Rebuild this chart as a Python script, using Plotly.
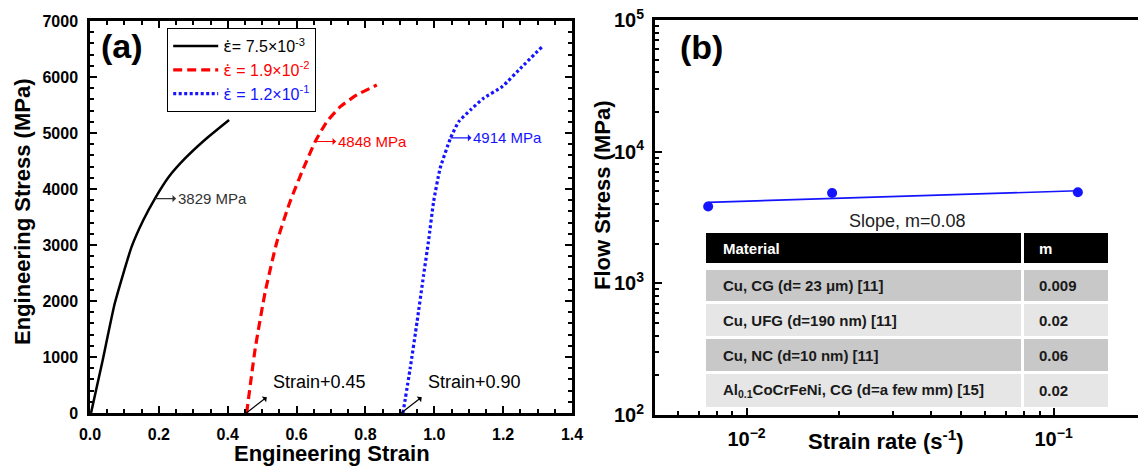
import plotly.graph_objects as go

W, H = 1138, 466
FONT = "Liberation Sans, Arial, sans-serif"

# ---------------- data: panel (a) engineering stress-strain ----------------
black_strain = [0.003, 0.037, 0.072, 0.121, 0.155, 0.189, 0.228, 0.276, 0.334, 0.404]
black_stress = [0, 946, 1959, 2970, 3446, 3834, 4210, 4545, 4880, 5232]
red_strain = [0.455, 0.480, 0.509, 0.543, 0.581, 0.620, 0.654, 0.688, 0.727, 0.775, 0.833]
red_stress = [0, 1155, 2166, 3059, 3773, 4370, 4845, 5202, 5470, 5679, 5857]
blue_strain = [0.909, 0.930, 0.950, 0.969, 0.983, 0.998, 1.017, 1.047, 1.071, 1.105,
               1.143, 1.197, 1.255, 1.313]
blue_stress = [0, 798, 1630, 2464, 3059, 3773, 4370, 4905, 5202, 5411, 5620, 5827, 6184, 6541]
EPS = "<span style=\"font-family:'DejaVu Sans'\">ε̇</span>"
series_names = [EPS + "= 7.5×10<sup>-3</sup>", EPS + " = 1.9×10<sup>-2</sup>",
                EPS + " = 1.2×10<sup>-1</sup>"]
series_colors = ["#000000", "#ff0000", "#1414ff"]

# yield/flow stress labels on each curve
flow_strain = [0.189, 0.654, 1.047]
flow_labels = ["3829 MPa", "4848 MPa", "4914 MPa"]
label_colors = ["#333333", "#ff0000", "#1414ff"]
shift_values = [0.45, 0.90]
shift_labels = ["Strain+0.45", "Strain+0.90"]

# ---------------- data: panel (b) flow stress vs strain rate ----------------
strain_rates = [7.5e-3, 1.9e-2, 1.2e-1]
flow_stress = [3829, 4848, 4914]
fit_rates = [7.5e-3, 1.2e-1]
fit_stress = [4120, 5050]
slope_label = "Slope, m=0.08"

table_header = ["Material", "m"]
table_material = ["Cu, CG (d= 23 μm) [11]", "Cu, UFG (d=190 nm) [11]",
                  "Cu, NC (d=10 nm) [11]", "Al<sub>0.1</sub>CoCrFeNi, CG (d=a few mm) [15]"]
table_m = ["0.009", "0.02", "0.06", "0.02"]


def px(x):
    return x / W


def py(y):
    return 1 - y / H


fig = go.Figure()

dashes = ["solid", "9px,5px", "3px,2.5px"]
widths = [2.5, 3.2, 3.2]
curves = [(black_strain, black_stress), (red_strain, red_stress), (blue_strain, blue_stress)]
for (xs, ys), name, col, dash, w in zip(curves, series_names, series_colors, dashes, widths):
    fig.add_trace(go.Scatter(
        x=xs, y=ys, mode="lines", xaxis="x", yaxis="y",
        name=f"<span style='color:{col}'>{name}</span>",
        line=dict(color=col, width=w, dash=dash, shape="spline", smoothing=0.5),
    ))

fig.add_trace(go.Scatter(
    x=fit_rates, y=fit_stress, mode="lines", xaxis="x2", yaxis="y2",
    line=dict(color="#1414ff", width=1.6), showlegend=False))
fig.add_trace(go.Scatter(
    x=strain_rates, y=flow_stress, mode="markers", xaxis="x2", yaxis="y2",
    marker=dict(color="#1414ff", size=10), showlegend=False))

axis_common = dict(
    showline=True, linewidth=2.5, linecolor="black", showgrid=False, zeroline=False,
    ticks="inside", ticklen=7, tickwidth=2, tickcolor="black", automargin=False,
    tickfont=dict(family=FONT, size=16, color="black", weight="bold"),
)

fig.update_layout(
    width=W, height=H,
    margin=dict(l=0, r=0, t=0, b=0, autoexpand=False),
    paper_bgcolor="white", plot_bgcolor="white",
    font=dict(family=FONT, color="black"),
    xaxis=dict(**axis_common, domain=[px(90), px(572)], range=[0, 1.4], anchor="y",
               tick0=0, dtick=0.2, tickformat=".1f", mirror="allticks", ticklabelstandoff=5,
               minor=dict(dtick=0.05, ticks="inside", ticklen=4, tickwidth=1.5, tickcolor="black")),
    yaxis=dict(**axis_common, domain=[py(413), py(21)], range=[0, 7000], anchor="x",
               tick0=0, dtick=1000, mirror="allticks", ticklabelstandoff=6,
               minor=dict(dtick=200, ticks="inside", ticklen=4, tickwidth=1.5, tickcolor="black")),
    xaxis2=dict(**axis_common, domain=[px(655), 1.0], type="log", range=[-2.298, -0.725],
                anchor="y2", dtick=1, exponentformat="power", mirror=True, ticklabelstandoff=5,
                minor=dict(ticks="inside", ticklen=4, tickwidth=1.5, tickcolor="black")),
    yaxis2=dict(**axis_common, domain=[py(415), py(20)], type="log", range=[2, 5],
                anchor="x2", dtick=1, exponentformat="power", ticklabelstandoff=5,
                minor=dict(ticks="inside", ticklen=4, tickwidth=1.5, tickcolor="black")),
    yaxis3=dict(type="log", range=[2, 5], dtick=1, overlaying="y2", side="right",
                anchor="free", position=1.0, showline=False, showgrid=False, zeroline=False,
                showticklabels=False, ticks="inside", ticklen=5, tickwidth=2,
                tickcolor="black", automargin=False),
    legend=dict(x=px(167), y=py(28), xanchor="left", yanchor="top",
                bordercolor="black", borderwidth=1.2, bgcolor="white",
                font=dict(family=FONT, size=16), itemwidth=45, tracegroupgap=0),
    showlegend=True,
)

ann = []


def text_ann(text, x, y, size, color="black", xanchor="center", angle=0):
    return dict(text=text, x=px(x), y=py(y), xref="paper", yref="paper",
                xanchor=xanchor, yanchor="middle", showarrow=False, textangle=angle,
                font=dict(family=FONT, size=size, color=color))


# panel labels
ann.append(text_ann("<b>(a)</b>", 99, 46, 34, xanchor="left"))
ann.append(text_ann("<b>(b)</b>", 678, 47, 34, xanchor="left"))
# axis titles
ann.append(text_ann("<b>Engineering Strain</b>", 332, 453, 22))
ann.append(text_ann("<b>Engineering Stress (MPa)</b>", 22, 212, 22, angle=-90))
ann.append(text_ann("<b>Strain rate (s<sup>-1</sup>)</b>", 886, 440, 22))
ann.append(text_ann("<b>Flow Stress (MPa)</b>", 602, 196, 22, angle=-90))

# flow stress labels with arrows
for xs, ys, lab, col in zip(flow_strain, flow_stress, flow_labels, label_colors):
    ann.append(dict(text=lab, x=xs, y=ys, xref="x", yref="y", ax=21, ay=0,
                    xanchor="left", yanchor="middle", showarrow=True, arrowside="start",
                    arrowhead=2, arrowsize=1, arrowwidth=1.2, arrowcolor=col, standoff=0,
                    font=dict(family=FONT, size=15, color=col)))

# strain shift labels
for sv, lab in zip(shift_values, shift_labels):
    ann.append(dict(text="", x=sv + 0.004, y=0, xref="x", yref="y", ax=22, ay=-17,
                    showarrow=True, arrowside="start", arrowhead=2, arrowsize=1,
                    arrowwidth=1.2, arrowcolor="black", standoff=0, startstandoff=0))
    ann.append(dict(text=lab, x=sv + 0.076, y=555, xref="x", yref="y", xanchor="left",
                    yanchor="middle", showarrow=False,
                    font=dict(family=FONT, size=18, color="black")))

# slope label
ann.append(text_ann(slope_label, 907, 221, 18, color="#222222"))

# table
shapes = []
col_x = [(706, 1021), (1024, 1108)]
header_y = (233, 263)
row_y = [(270, 301), (304, 336), (339, 371), (374, 407)]
row_fill = ["#c8c8c8", "#e6e6e6", "#c8c8c8", "#e6e6e6"]
text_x = [721, 1037]
for ci, (x0, x1) in enumerate(col_x):
    shapes.append(dict(type="rect", xref="paper", yref="paper", x0=px(x0), x1=px(x1),
                       y0=py(header_y[1]), y1=py(header_y[0]), fillcolor="black",
                       line=dict(width=0), layer="above"))
    ann.append(text_ann(f"<b>{table_header[ci]}</b>", text_x[ci], sum(header_y) / 2, 15,
                        color="white", xanchor="left"))
    col_vals = table_material if ci == 0 else table_m
    for ri, ((y0, y1), val) in enumerate(zip(row_y, col_vals)):
        shapes.append(dict(type="rect", xref="paper", yref="paper", x0=px(x0), x1=px(x1),
                           y0=py(y1), y1=py(y0), fillcolor=row_fill[ri],
                           line=dict(width=0), layer="above"))
        ann.append(text_ann(f"<b>{val}</b>", text_x[ci], (y0 + y1) / 2, 15,
                            color="#1a1a1a", xanchor="left"))

fig.update_layout(annotations=ann, shapes=shapes)

fig.write_html("out.html")
